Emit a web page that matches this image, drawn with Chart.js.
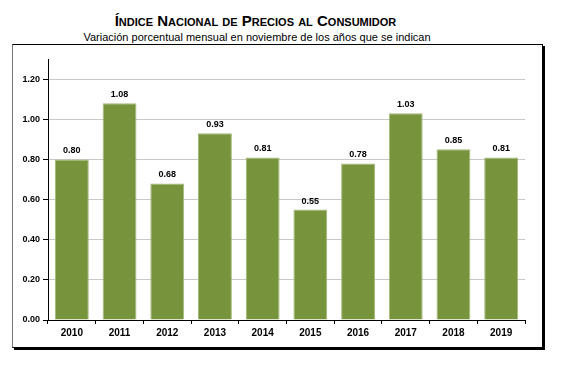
<!DOCTYPE html>
<html>
<head>
<meta charset="utf-8">
<script src="https://cdn.jsdelivr.net/npm/chart.js@4/dist/chart.umd.min.js"></script>
<style>
  html, body { margin: 0; padding: 0; background: #fff; }
  #wrap { position: relative; width: 567px; height: 372px; overflow: hidden; }
  #title { position: absolute; left: 0; top: 12px; width: 511px; text-align: center; line-height: 17px;
    font: bold 15px "Liberation Sans", Arial, sans-serif; font-variant: small-caps; color: #000; }
  #subtitle { position: absolute; left: 0; top: 31px; width: 514px; text-align: center; line-height: 13px;
    font: 11px "Liberation Sans", Arial, sans-serif; color: #000; }
  #box { position: absolute; left: 12px; top: 44px; width: 529px; height: 302px;
    border: 1px solid #000; border-left-color: #777; box-shadow: 2px 2px 0 #000; }
  canvas { position: absolute; left: 0; top: 0; }
</style>
</head>
<body>
<div id="wrap">
  <div id="title">Índice Nacional de Precios al Consumidor</div>
  <div id="subtitle">Variación porcentual mensual en noviembre de los años que se indican</div>
  <div id="box"></div>
  <canvas id="c" width="567" height="372"></canvas>
</div>
<script>
const categories = ["2010","2011","2012","2013","2014","2015","2016","2017","2018","2019"];
const values = [0.80, 1.08, 0.68, 0.93, 0.81, 0.55, 0.78, 1.03, 0.85, 0.81];
const yTicks = [0, 0.2, 0.4, 0.6, 0.8, 1.0, 1.2];

const labelPlugin = {
  id: 'barLabels',
  afterDatasetsDraw(chart) {
    const ctx = chart.ctx;
    const meta = chart.getDatasetMeta(0);
    ctx.save();
    ctx.font = 'bold 9px "Liberation Sans", Arial, sans-serif';
    ctx.fillStyle = '#000';
    ctx.textAlign = 'center';
    ctx.textBaseline = 'bottom';
    meta.data.forEach((bar, i) => {
      ctx.fillText(values[i].toFixed(2), bar.x, bar.y - 4);
    });
    ctx.restore();
  }
};

new Chart(document.getElementById('c'), {
  type: 'bar',
  data: {
    labels: categories,
    datasets: [{
      data: values,
      backgroundColor: '#77933C',
      borderColor: '#a3b978',
      borderWidth: 1,
      categoryPercentage: 1,
      barPercentage: 0.71
    }]
  },
  options: {
    responsive: false,
    animation: false,
    devicePixelRatio: 1,
    layout: { padding: { left: 0, right: 42, top: 59, bottom: 0 } },
    plugins: { legend: { display: false }, tooltip: { enabled: false } },
    scales: {
      x: {
        offset: true,
        grid: { display: true, drawOnChartArea: false, offset: true, tickLength: 4, color: '#000', tickColor: '#000' },
        border: { display: true, color: '#000', width: 1 },
        ticks: { color: '#000', padding: 3, font: { family: '"Liberation Sans", Arial, sans-serif', size: 10, weight: 'bold' } },
        afterFit(scale) { scale.height = 52; }
      },
      y: {
        min: 0, max: 1.3,
        grid: { color: '#c8c8c8', tickColor: '#000', tickLength: 5, lineWidth: 1 },
        border: { display: true, color: '#000', width: 1 },
        ticks: {
          stepSize: 0.2, color: '#000', padding: 3,
          font: { family: '"Liberation Sans", Arial, sans-serif', size: 9, weight: 'bold' },
          callback: (v) => Number(v).toFixed(2)
        },
        afterBuildTicks(scale) {
          scale.ticks = yTicks.map(v => ({ value: v }));
        },
        afterFit(scale) { scale.width = 48; }
      }
    }
  },
  plugins: [labelPlugin]
});
</script>
</body>
</html>
